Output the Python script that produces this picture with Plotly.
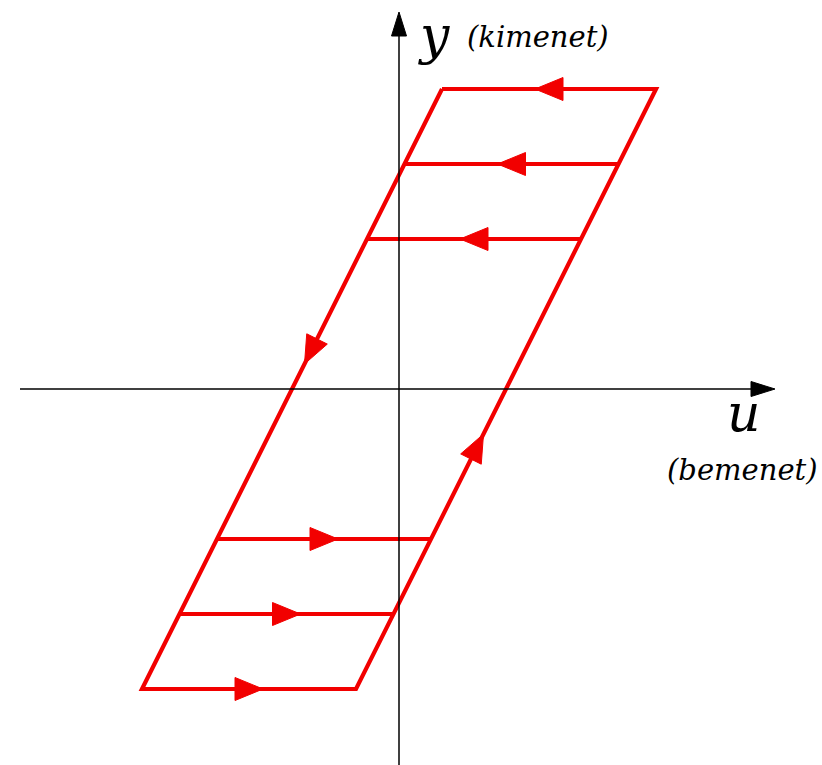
import plotly.graph_objects as go

# Hysteresis loop model: two parallel branches y = SLOPE * (u -/+ COERCIVE),
# clipped at +/- saturation, with horizontal return paths in between.
SLOPE = 2.0
COERCIVE = 1.07
SATURATION = 3.0
levels_down = [3.0, 2.25, 1.5]      # return paths travelled right-to-left
levels_up = [-1.5, -2.25, -3.0]     # return paths travelled left-to-right
branch_arrow_y = {"left": 0.25, "right": -0.45}  # tips of the arrows on the sloped branches

# axis extents (data units)
X_AXIS = [-3.79, 3.76]
Y_AXIS = [-3.76, 3.77]
X_RANGE = [-3.99, 4.23]
Y_RANGE = [-3.76, 3.89]

RED = "rgb(242,0,0)"
LINE_W = 4.2
HEAD_LEN, HEAD_HALF = 0.28, 0.115
AX_HEAD_LEN, AX_HEAD_HALF = 0.24, 0.075


def left_branch(y):
    return y / SLOPE - COERCIVE


def right_branch(y):
    return y / SLOPE + COERCIVE


def head_path(tip, direction, length, half):
    dx, dy = direction
    n = (dx * dx + dy * dy) ** 0.5
    dx, dy = dx / n, dy / n
    bx, by = tip[0] - dx * length, tip[1] - dy * length
    px, py = -dy * half, dx * half
    return (f"M{tip[0]},{tip[1]} L{bx + px},{by + py} "
            f"L{bx - px},{by - py} Z")


fig = go.Figure()
shapes = []

# loop outline
outline_y = [SATURATION, SATURATION, -SATURATION, -SATURATION, SATURATION]
outline_x = [left_branch(SATURATION), right_branch(SATURATION),
             right_branch(-SATURATION), left_branch(-SATURATION),
             left_branch(SATURATION)]
fig.add_trace(go.Scatter(x=outline_x, y=outline_y, mode="lines",
                         line=dict(color=RED, width=LINE_W),
                         hoverinfo="skip", showlegend=False))

# horizontal return paths with direction arrows
for levels, sign in ((levels_down, -1), (levels_up, 1)):
    for lv in levels:
        x0, x1 = left_branch(lv), right_branch(lv)
        fig.add_trace(go.Scatter(x=[x0, x1], y=[lv, lv], mode="lines",
                                 line=dict(color=RED, width=LINE_W),
                                 hoverinfo="skip", showlegend=False))
        mid = (x0 + x1) / 2
        tip = (mid + sign * HEAD_LEN / 2, lv)
        shapes.append(dict(type="path", xref="x", yref="y",
                           path=head_path(tip, (sign, 0), HEAD_LEN, HEAD_HALF),
                           fillcolor=RED, line=dict(color=RED, width=1)))

# arrows on the sloped branches
yl = branch_arrow_y["left"]
shapes.append(dict(type="path", xref="x", yref="y",
                   path=head_path((left_branch(yl), yl), (-1, -SLOPE),
                                  HEAD_LEN, HEAD_HALF),
                   fillcolor=RED, line=dict(color=RED, width=1)))
yr = branch_arrow_y["right"]
shapes.append(dict(type="path", xref="x", yref="y",
                   path=head_path((right_branch(yr), yr), (1, SLOPE),
                                  HEAD_LEN, HEAD_HALF),
                   fillcolor=RED, line=dict(color=RED, width=1)))

# coordinate axes
shapes.append(dict(type="line", xref="x", yref="y", x0=X_AXIS[0], y0=0,
                   x1=X_AXIS[1] - AX_HEAD_LEN, y1=0,
                   line=dict(color="black", width=1.5)))
shapes.append(dict(type="line", xref="x", yref="y", x0=0, y0=Y_AXIS[0],
                   x1=0, y1=Y_AXIS[1] - AX_HEAD_LEN,
                   line=dict(color="black", width=1.5)))
shapes.append(dict(type="path", xref="x", yref="y",
                   path=head_path((X_AXIS[1], 0), (1, 0), AX_HEAD_LEN, AX_HEAD_HALF),
                   fillcolor="black", line=dict(color="black", width=1)))
shapes.append(dict(type="path", xref="x", yref="y",
                   path=head_path((0, Y_AXIS[1]), (0, 1), AX_HEAD_LEN, AX_HEAD_HALF),
                   fillcolor="black", line=dict(color="black", width=1)))

SERIF = "DejaVu Serif"
annotations = [
    dict(x=0.17, y=3.54, text="<i>y</i>", xanchor="left", yanchor="middle",
         font=dict(family=SERIF, size=52, color="black")),
    dict(x=0.66, y=3.52, text="<i>(kimenet)</i>", xanchor="left", yanchor="middle",
         font=dict(family=SERIF, size=29, color="black")),
    dict(x=3.45, y=-0.24, text="<i>u</i>", xanchor="center", yanchor="middle",
         font=dict(family=SERIF, size=52, color="black")),
    dict(x=3.43, y=-0.81, text="<i>(bemenet)</i>", xanchor="center", yanchor="middle",
         font=dict(family=SERIF, size=29, color="black")),
]
for a in annotations:
    a.update(xref="x", yref="y", showarrow=False)

fig.update_layout(
    width=822, height=765,
    margin=dict(l=0, r=0, t=0, b=0),
    paper_bgcolor="white", plot_bgcolor="white",
    xaxis=dict(range=X_RANGE, visible=False, fixedrange=True),
    yaxis=dict(range=Y_RANGE, visible=False, fixedrange=True),
    shapes=shapes, annotations=annotations,
    showlegend=False,
)

fig.write_html("out.html")
